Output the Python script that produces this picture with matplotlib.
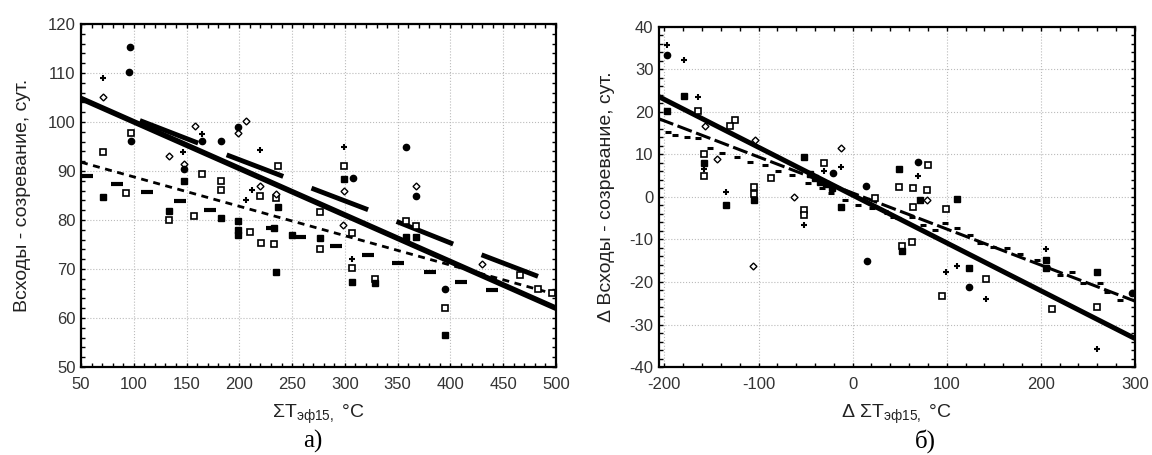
import matplotlib
matplotlib.use("Agg")
import matplotlib.pyplot as plt
from matplotlib.ticker import MultipleLocator

plt.rcParams['font.family'] = ['Liberation Sans', 'DejaVu Sans']
plt.rcParams['mathtext.fontset'] = 'custom'
plt.rcParams['mathtext.rm'] = 'Liberation Sans'
plt.rcParams['mathtext.it'] = 'Liberation Sans'
plt.rcParams['axes.unicode_minus'] = False

# ---- panel a) data ----
a_line_x = [50, 500]
a_line_y = [104.8, 62.0]
a_dash_x = [50, 500]
a_dash_y = [91.8, 64.8]
# short parallel segments (start / end)
a_seg_x0 = [105.8, 188, 268.4, 349, 429.5]
a_seg_y0 = [100.3, 93.3, 86.5, 79.7, 72.9]
a_seg_x1 = [161, 241.6, 322, 402.6, 483]
a_seg_y1 = [95.7, 88.9, 82.1, 75.1, 68.5]
# thick short dashes
a_bar_x = [55.3, 83.7, 112.1, 143.7, 172.1, 230.5, 257.4, 292, 322, 350.5, 380.5, 410.5, 439]
a_bar_y = [89, 87.3, 85.8, 83.8, 82.1, 78.3, 76.6, 74.6, 72.9, 71.2, 69.3, 67.4, 65.7]

a_circ_x = [96.4, 95.5, 97, 165, 183, 198.6, 148, 307.3, 358.4, 367, 394.7]
a_circ_y = [115.4, 110.3, 96.1, 96.1, 96.1, 99.0, 90.4, 88.5, 94.8, 84.8, 66.0]
a_diam_x = [70.5, 133.6, 158, 198.6, 206, 220, 235, 299.4, 367, 430.4, 298.4, 148]
a_diam_y = [105.1, 93.1, 99.2, 97.7, 100.3, 87, 85.3, 86.0, 87.0, 71.0, 79, 91.5]
a_osq_x = [70.5, 97, 165, 183, 183, 237, 133.6, 157, 220, 221, 233, 299.4, 276.3, 276.3,
           358.4, 367, 307, 307, 328.4, 394.7, 465.8, 483, 495.8, 93, 210, 235]
a_osq_y = [93.8, 97.8, 89.4, 88, 86.1, 91.0, 80.0, 80.9, 84.8, 75.4, 75.1, 91.1, 81.6, 74.0,
           79.9, 78.8, 77.3, 70.2, 67.9, 62.0, 68.8, 65.9, 65.2, 85.6, 77.6, 84.4]
a_fsq_x = [70.5, 148, 133.6, 183, 198.6, 198.6, 237, 233, 234.6, 250, 299.4, 276.3,
           358.4, 367, 307, 328.4, 394.7, 199]
a_fsq_y = [84.6, 88.0, 81.9, 80.5, 78, 77, 82.6, 78.3, 69.3, 77, 88.3, 76.3,
           76.5, 76.5, 67.4, 67.2, 56.6, 79.7]
a_plus_x = [70.5, 147, 220, 206, 211.6, 299.4, 307, 165]
a_plus_y = [108.9, 93.8, 94.2, 84.1, 86.1, 94.8, 72, 97.5]

# ---- panel б) data ----
b_line_x = [-205.8, 300]
b_line_y = [23.6, -33.3]
b_line2_x = [-205.8, 300]
b_line2_y = [18.4, -24.5]
b_bar_x = [-195.9, -188.8, -176.5, -164.1, -151.7, -139.3, -123.3, -109.2, -93.2, -79.1,
           -64.9, -47.2, -33.0, -22.5, -8.2, 6.0, 20.1, 34.3, 43.2,
           36.1, 48.5, 62.6, 75.0, 87.4, 98.1, 110.5, 124.6, 135.3, 149.4, 163.6, 177.8,
           195.5, 206.1, 220.3, 232.7, 245.1, 262.8, 269.9, 284.0, 298.2]
b_bar_y = [15.4, 14.6, 14.2, 13.8, 11.5, 10.3, 9.5, 8.3, 7.5, 6.0,
           5.2, 3.2, 2.0, 0.9, -0.7, -1.9, -2.7, -3.4, -4.6,
           -3.8, -5.0, -4.8, -6.6, -7.8, -6.2, -7.4, -9.0, -10.9, -11.7, -12.1, -13.3,
           -14.8, -16.4, -18.4, -17.6, -20.3, -20.2, -22.3, -24.2, -22.7]

b_circ_x = [-197, 14.1, 69, 124, -20.6, 14.9, 296.4]
b_circ_y = [33.3, 2.7, 8.2, -21.1, 5.6, -15.1, -22.7]
b_diam_x = [-157, -144.6, -104, -62.4, -12.8, -106.3, 78.6]
b_diam_y = [16.7, 8.9, 13.3, 0.1, 11.5, -16.2, -0.7]
b_osq_x = [-164, -125, -130, -157.6, -157.6, -105, -105, -86.8, -51.8, -51.8, -30.5, 23.7,
           64.4, 49.2, 79.6, 78.6, 64.4, 98.8, 52, 63.4, 141.6, 94.5, 212, 260]
b_osq_y = [20.3, 18.0, 16.7, 10.1, 5.0, 2.3, 0.7, 4.4, -3.1, -4.2, 8.1, -0.3,
           2.0, 2.3, 7.5, 1.6, -2.3, -2.8, -11.5, -10.7, -19.4, -23.3, -26.4, -26.0]
b_fsq_x = [-179.3, -197, -157.6, -134.7, -51.8, -12.8, 49.2, 110.5, 124, 205, 205, 260,
           71.5, 52, -105, -45, -40, -35, -28, -22]
b_fsq_y = [23.8, 20.3, 8.1, -1.9, 9.3, -2.4, 6.7, -0.5, -16.8, -14.8, -16.8, -17.7,
           -0.7, -12.6, -0.7, 5.5, 4.5, 3.5, 3.0, 2.2]
b_plus_x = [-197, -179.3, -164, -157.6, -134.7, -51.8, -30.5, -12.8, 69, 98.8, 110.5,
            141.6, 205, 259.3]
b_plus_y = [35.8, 32.2, 23.5, 6.7, 1.1, -6.7, 6.2, 7.1, 5.0, -17.7, -16.2,
            -24.1, -12.3, -35.8]

fig = plt.figure(figsize=(11.52, 4.55), dpi=100)
ax1 = fig.add_axes([0.0703, 0.1934, 0.4123, 0.7538])
ax2 = fig.add_axes([0.5720, 0.1934, 0.4132, 0.7473])


def draw_points(ax, circ, diam, osq, fsq, plus):
    ax.plot(osq[0], osq[1], 's', ms=4.5, mfc='white', mec='black', mew=1.2, ls='none', zorder=4)
    ax.plot(fsq[0], fsq[1], 's', ms=4.5, color='black', ls='none', zorder=4)
    ax.plot(diam[0], diam[1], 'D', ms=3.5, mfc='white', mec='black', mew=1.0, ls='none', zorder=4)
    ax.plot(circ[0], circ[1], 'o', ms=4.5, color='black', ls='none', zorder=4)
    ax.plot(plus[0], plus[1], '+', ms=5, color='black', mew=1.5, ls='none', zorder=4)


def style_axis(ax, xmaj, xmin, ymaj, ymin):
    ax.xaxis.set_major_locator(MultipleLocator(xmaj))
    ax.xaxis.set_minor_locator(MultipleLocator(xmin))
    ax.yaxis.set_major_locator(MultipleLocator(ymaj))
    ax.yaxis.set_minor_locator(MultipleLocator(ymin))
    ax.tick_params(which='both', direction='in', top=True, right=True, length=3,
                   width=1, labelsize=12, labelcolor='#333333')
    ax.tick_params(axis='x', which='major', pad=7)
    ax.tick_params(axis='y', which='major', pad=4)
    ax.grid(True, which='major', ls=':', lw=0.8, color='#bbbbbb')
    for s in ax.spines.values():
        s.set_linewidth(1.6)
    ax.set_axisbelow(True)


# panel a)
ax1.plot(a_line_x, a_line_y, color='black', lw=4, solid_capstyle='butt', zorder=3)
ax1.plot(a_dash_x, a_dash_y, color='black', lw=2, ls=(0, (2.5, 2)), zorder=3)
for x0, y0, x1, y1 in zip(a_seg_x0, a_seg_y0, a_seg_x1, a_seg_y1):
    ax1.plot([x0, x1], [y0, y1], color='black', lw=3.5, solid_capstyle='butt', zorder=3)
ax1.plot(a_bar_x, a_bar_y, '_', ms=8, mew=3, color='black', ls='none', zorder=3)
draw_points(ax1, (a_circ_x, a_circ_y), (a_diam_x, a_diam_y), (a_osq_x, a_osq_y),
            (a_fsq_x, a_fsq_y), (a_plus_x, a_plus_y))
ax1.set_xlim(50, 500)
ax1.set_ylim(50, 120)
style_axis(ax1, 50, 10, 10, 2)
ax1.set_xlabel('ΣT$_{\\mathregular{эф15,}}$ °C', fontsize=14, labelpad=8, color='#222222')
ax1.set_ylabel('Всходы - созревание, сут.', fontsize=14, labelpad=12, color='#222222')

# panel б)
ax2.plot(b_line_x, b_line_y, color='black', lw=3.6, solid_capstyle='butt', zorder=3)
ax2.plot(b_line2_x, b_line2_y, color='black', lw=2.2, ls=(0, (5, 1.5)), zorder=3)
ax2.plot(b_bar_x, b_bar_y, '_', ms=5, mew=2.2, color='black', ls='none', zorder=3)
draw_points(ax2, (b_circ_x, b_circ_y), (b_diam_x, b_diam_y), (b_osq_x, b_osq_y),
            (b_fsq_x, b_fsq_y), (b_plus_x, b_plus_y))
ax2.set_xlim(-205.8, 300)
ax2.set_ylim(-40, 40)
style_axis(ax2, 100, 20, 10, 2)
ax2.set_xlabel('Δ ΣT$_{\\mathregular{эф15,}}$ °C', fontsize=14, labelpad=8, color='#222222')
ax2.set_ylabel('Δ Всходы - созревание, сут.', fontsize=14, labelpad=10, color='#222222')

fig.text(313 / 1152, 1 - 441 / 455, 'а)', family=['Liberation Serif', 'DejaVu Serif'],
         fontsize=18, ha='center', va='center')
fig.text(925 / 1152, 1 - 441 / 455, 'б)', family=['Liberation Serif', 'DejaVu Serif'],
         fontsize=18, ha='center', va='center')

fig.savefig('out.png', dpi=100)
